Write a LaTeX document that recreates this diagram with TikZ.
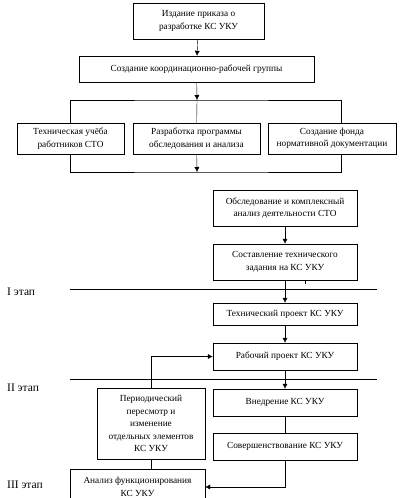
\documentclass[tikz,border=0pt]{standalone}
\usepackage{fontspec}
\setmainfont{Liberation Serif}
\usetikzlibrary{arrows.meta}
\tikzset{
  blok/.style={draw, align=center, inner sep=1pt, font=\fontsize{9.3}{12.5}\selectfont},
  strel/.style={-{Latex[length=5pt,width=5pt]}},
  etap/.style={anchor=west, inner sep=0pt, font=\fontsize{11.5}{13}\selectfont},
}
\begin{document}
\begin{tikzpicture}[x=1pt, y=-1pt]
\useasboundingbox (0,0) rectangle (406,498);
%\draw[very thin,color=gray] (0,0) grid[step=50] (406,498);

% verkhnyaya chast'
\node[blok, minimum width=131pt, minimum height=36pt] (prikaz) at (198.5,21) {Издание приказа о\\разработке КС УКУ};
\node[blok, minimum width=235pt, minimum height=26pt] (gruppa) at (196.5,69) {Создание координационно-рабочей группы};
\node[blok, minimum width=107pt, minimum height=31pt] (ucheba) at (70.5,138.5) {Техническая учёба\\работников СТО};
\node[blok, minimum width=127pt, minimum height=31pt] (programma) at (196.5,138.5) {Разработка программы\\обследования и анализа};
\node[blok, minimum width=128pt, minimum height=31pt] (fond) at (332,138.5) {Создание фонда\\нормативной документации};
\coordinate (razv) at (197,100);
\coordinate (sbor) at (197,172);

\draw[strel] (prikaz) -- (gruppa);
\draw[strel] (gruppa) -- (razv);
\draw (ucheba.north) |- (razv) -| ([xshift=9pt]fond.north);
\draw (razv) -- (programma);
\draw (ucheba.south) |- (sbor) -| ([xshift=9pt]fond.south);
\draw[strel] (programma) -- (sbor);

% pravaya kolonka
\node[blok, minimum width=144pt, minimum height=36pt] (obsl) at (285,208) {Обследование и комплексный\\анализ деятельности СТО};
\node[blok, minimum width=144pt, minimum height=36pt] (zadanie) at (285,262) {Составление технического\\задания на КС УКУ};
\node[blok, minimum width=144pt, minimum height=22pt] (tekhpr) at (285,314) {Технический проект КС УКУ};
\node[blok, minimum width=144pt, minimum height=27pt] (rabpr) at (285,356.5) {Рабочий проект КС УКУ};
\node[blok, minimum width=144pt, minimum height=27pt] (vnedr) at (285,402.5) {Внедрение КС УКУ};
\node[blok, minimum width=144pt, minimum height=27pt] (soversh) at (285,446.5) {Совершенствование КС УКУ};

% levaya kolonka
\node[blok, minimum width=108pt, minimum height=71pt] (peresmotr) at (151,423.5) {Периодический\\пересмотр и\\изменение\\отдельных элементов\\КС УКУ};
\node[blok, minimum width=135pt, minimum height=36pt] (analiz) at (137.5,487) {Анализ функционирования\\КС УКУ};

\draw[strel] (obsl) -- (zadanie);
\draw[strel] (zadanie) -- (tekhpr);
\draw ([xshift=20pt]zadanie.south) -- ++(0,4);
\draw[strel] (tekhpr) -- (rabpr);
\draw[strel] (rabpr) -- (vnedr);
\draw (vnedr) -- (soversh);
\draw[strel] (soversh.south) |- (analiz.east);
\draw (analiz.north -| peresmotr.south) -- (peresmotr.south);
\draw[strel] (peresmotr.north) |- (rabpr.west);

% etapy
\draw (70,289) -- (377,289);
\draw (70,379) -- (377,379);
\node[etap] (etap1) at (7,292) {I этап};
\node[etap] (etap2) at (7,388) {II этап};
\node[etap] (etap3) at (7,485) {III этап};

\end{tikzpicture}
\end{document}
